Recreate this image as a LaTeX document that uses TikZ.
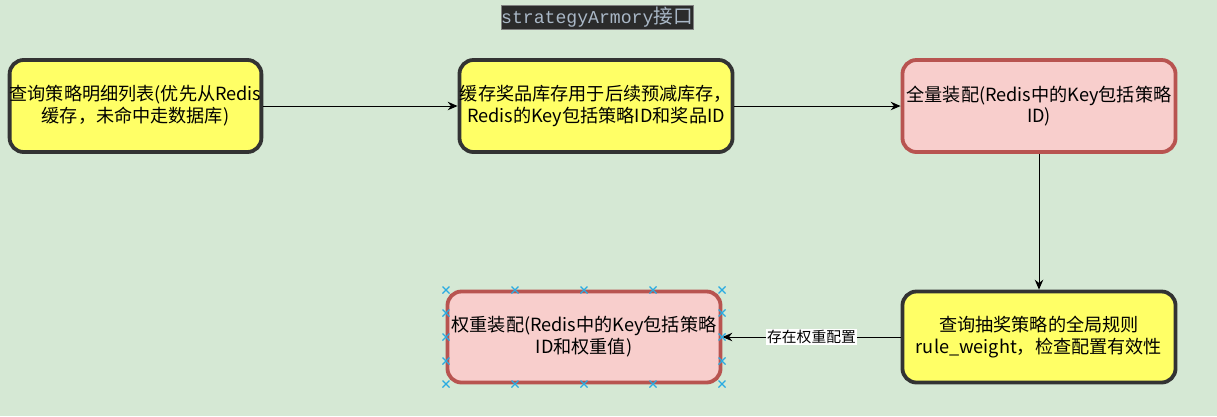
\documentclass[tikz,border=0pt]{standalone}
\usepackage{fontspec}
\usepackage{tikz}
\usetikzlibrary{positioning}
\usetikzlibrary{arrows.meta}
\newfontfamily\cjk{Noto Sans CJK SC}
\newfontfamily\codefont{Liberation Mono}
\definecolor{canvas}{HTML}{D5E8D4}
\definecolor{boxyellow}{HTML}{FFFF66}
\definecolor{boxline}{HTML}{333333}
\definecolor{boxred}{HTML}{F8CECC}
\definecolor{redline}{HTML}{B85450}
\definecolor{codebg}{HTML}{2B2B2B}
\definecolor{codetext}{HTML}{A9B7C6}
\definecolor{handleblue}{HTML}{29ABE2}

\begin{document}
\begin{tikzpicture}[
  x=0.025cm, y=-0.025cm,
  box/.style={rectangle, rounded corners=0.35cm, line width=2.7pt,
    minimum height=2.3cm, align=center, inner sep=0pt,
    font=\cjk\fontsize{12.9pt}{15.5pt}\selectfont},
  yellowbox/.style={box, draw=boxline, fill=boxyellow, minimum width=6.825cm},
  redbox/.style={box, draw=redline, fill=boxred, minimum width=6.825cm},
  flow/.style={draw=black, line width=0.7pt, -{Stealth[length=7pt,width=6pt]}},
  handle/.style={draw=handleblue, line width=0.9pt}
]
  \fill[canvas] (0,0) rectangle (1217,416);
  \useasboundingbox (0,0) rectangle (1217,416);

  \node[fill=codebg, draw=gray, text=codetext, minimum width=4.7cm,
    minimum height=0.6cm, inner sep=0pt,
    font=\cjk\fontsize{14pt}{15pt}\selectfont] (title) at (597,17)
    {{\codefont\fontsize{12.9pt}{15pt}\selectfont strategyArmory}接口};

  \node[yellowbox, minimum width=6.25cm] (list) at (135.5,106)
    {查询策略明细列表(优先从Redis\\缓存，未命中走数据库)};
  \node[yellowbox] (stock) at (596,106)
    {缓存奖品库存用于后续预减库存，\\Redis的Key包括策略ID和奖品ID};
  \node[redbox] (full) at (1039,106)
    {全量装配(Redis中的Key包括策略\\ID)};
  \node[yellowbox, minimum height=2.275cm] (rule) at (1039,337)
    {查询抽奖策略的全局规则\\rule\_weight，检查配置有效性};
  \node[redbox, minimum height=2.275cm] (weight) at (584,337)
    {权重装配(Redis中的Key包括策略\\ID和权重值)};

  \draw[flow] (list.east) -- (stock.west);
  \draw[flow] (stock.east) -- (full.west);
  \draw[flow] (full.south) -- (rule.north);
  \draw[flow] (rule.west) -- node[midway, fill=white, inner sep=1pt,
    font=\cjk\fontsize{10.5pt}{12pt}\selectfont] (cond) {存在权重配置} (weight.east);

  \foreach \hx in {446,515,584,653,722}
    \foreach \hy in {290,384}
      \draw[handle] (\hx-3.5,\hy-3.5) -- (\hx+3.5,\hy+3.5) (\hx-3.5,\hy+3.5) -- (\hx+3.5,\hy-3.5);
  \foreach \hx in {446,722}
    \foreach \hy in {313,337,361}
      \draw[handle] (\hx-3.5,\hy-3.5) -- (\hx+3.5,\hy+3.5) (\hx-3.5,\hy+3.5) -- (\hx+3.5,\hy-3.5);
\end{tikzpicture}
\end{document}
